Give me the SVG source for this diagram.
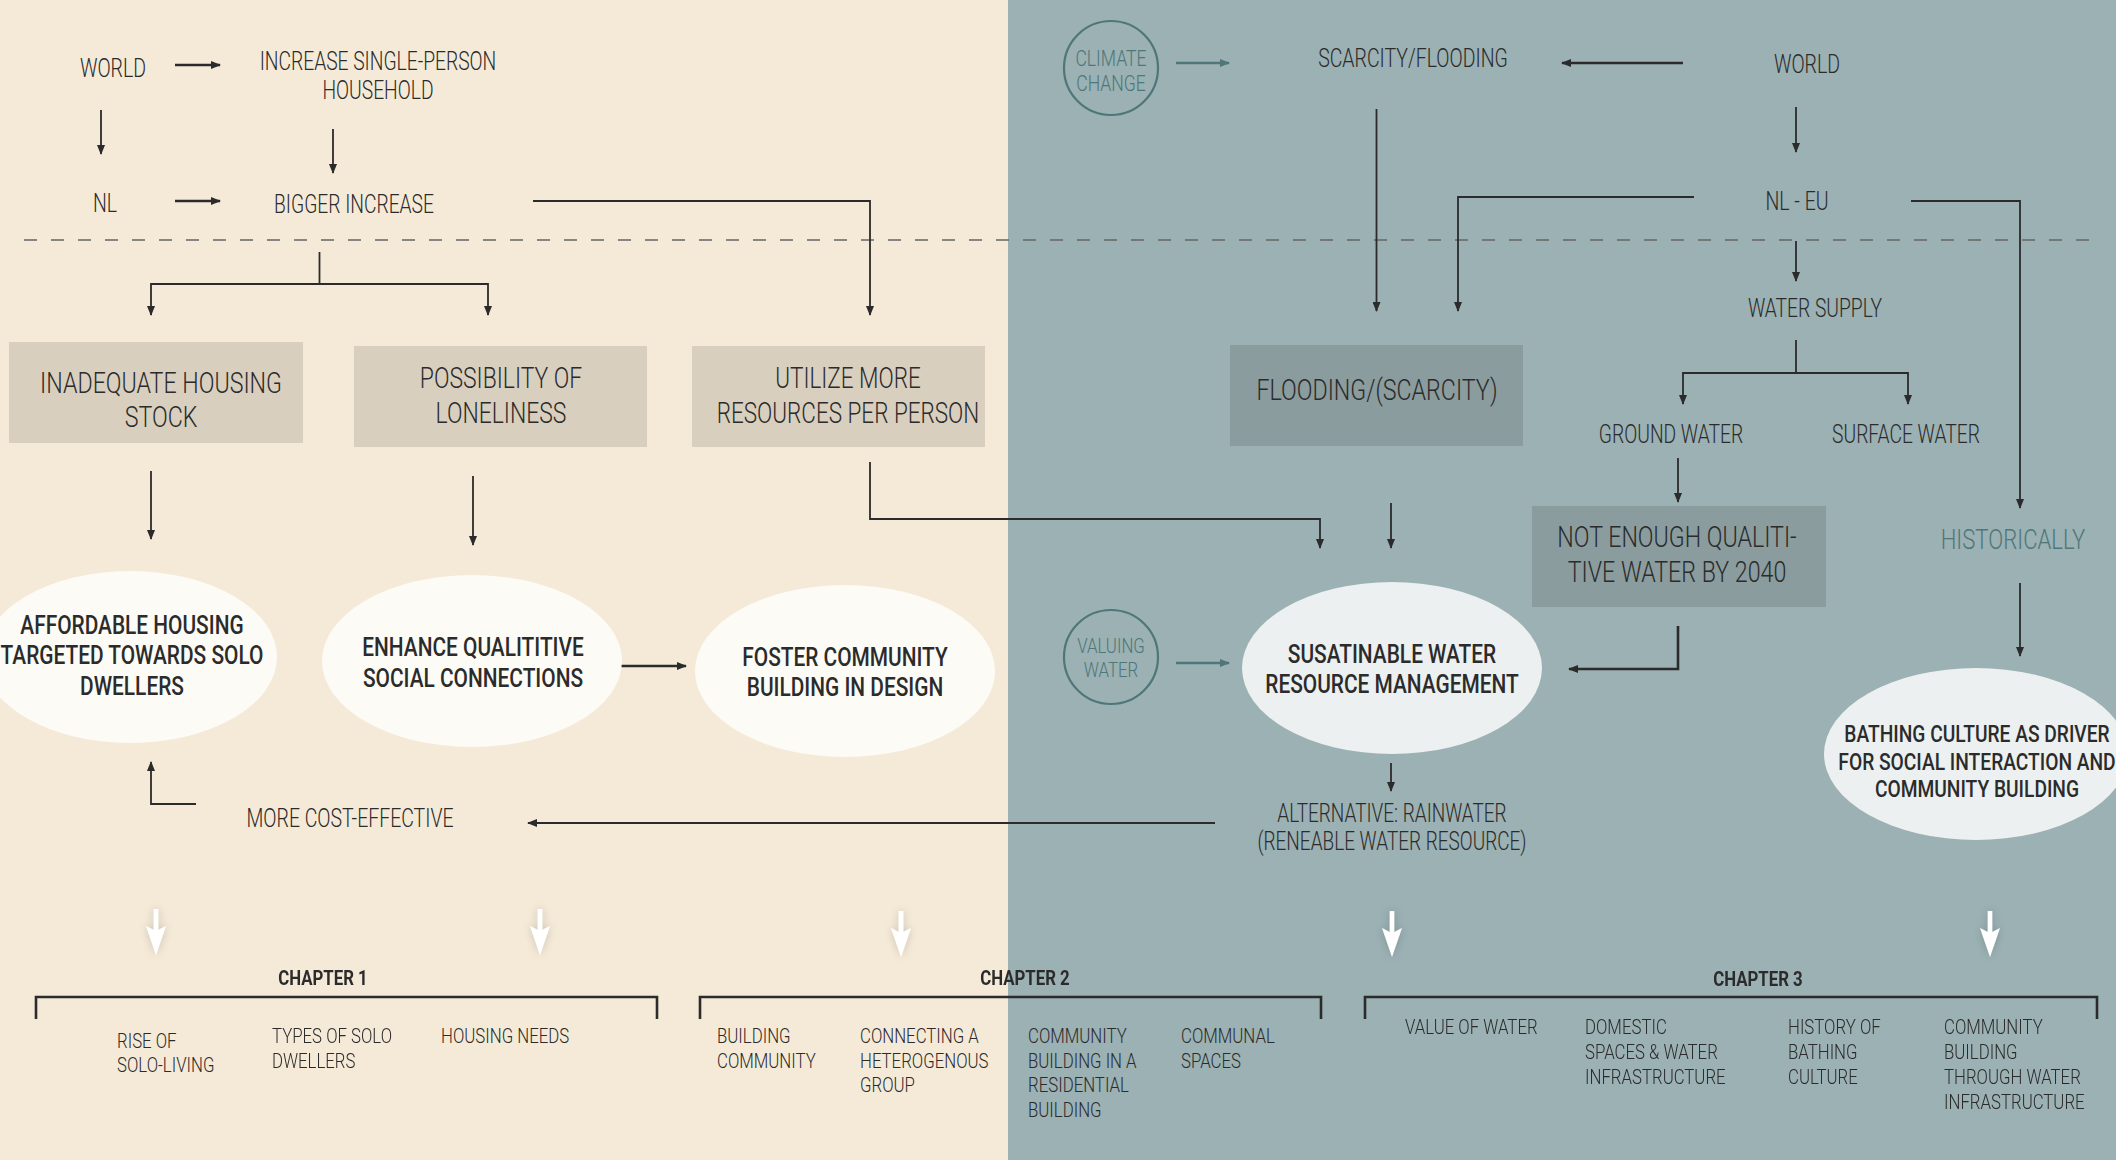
<svg xmlns="http://www.w3.org/2000/svg" width="2116" height="1160" viewBox="0 0 2116 1160">
<style>
text{font-family:Roboto,"Liberation Sans",sans-serif;fill:#2b2b2b;}
.t{font-size:25px;font-weight:300;text-anchor:middle;}
.bx{font-size:29px;font-weight:300;text-anchor:middle;}
.ci{font-size:25px;font-weight:500;text-anchor:middle;}
.cb{font-size:24px;font-weight:500;text-anchor:middle;}
.tl{fill:#4f7679;font-weight:300;text-anchor:middle;}
.ch{font-size:21px;font-weight:700;text-anchor:middle;}
.it{font-size:21px;font-weight:300;}
.ln{fill:none;stroke:#2b2b2b;stroke-width:1.8;}
.lt{fill:none;stroke:#2b2b2b;stroke-width:2.6;}
.tln{fill:none;stroke:#4f7679;stroke-width:2.4;}
.box{fill:#d9cfbf;}
.dbox{fill:#8a9c9e;}
.lc{fill:#fdfbf6;}
.rc{fill:#ecf0f0;}
.oc{fill:none;stroke:#4f7679;stroke-width:2.2;}
.wa{fill:#ffffff;}
</style>
<defs>
<marker id="ah" markerWidth="10" markerHeight="8" refX="9" refY="4" orient="auto" markerUnits="userSpaceOnUse"><path d="M0,0 L10,4 L0,8 Z" fill="#2b2b2b"/></marker>
<marker id="aht" markerWidth="10" markerHeight="8" refX="9" refY="4" orient="auto" markerUnits="userSpaceOnUse"><path d="M0,0 L10,4 L0,8 Z" fill="#4f7679"/></marker>
<filter id="glow" x="-100%" y="-50%" width="300%" height="200%"><feDropShadow dx="0" dy="0" stdDeviation="4" flood-color="#000" flood-opacity="0.18"/></filter>
<path id="warr" d="M-2.3,0 H2.3 V21 L10,17 L0,46 L-10,17 L-2.3,21 Z"/>
</defs>
<rect x="0" y="0" width="1008" height="1160" fill="#f5ead8"/>
<rect x="1008" y="0" width="1108" height="1160" fill="#9bb1b3"/>
<line x1="24" y1="240" x2="2092" y2="240" stroke="#666" stroke-width="1.3" stroke-dasharray="13 14"/>

<g id="connectors">
<line class="lt" x1="175" y1="65" x2="220" y2="65" marker-end="url(#ah)"/>
<line class="ln" x1="101" y1="110" x2="101" y2="154" marker-end="url(#ah)"/>
<line class="ln" x1="333" y1="129" x2="333" y2="173" marker-end="url(#ah)"/>
<line class="lt" x1="175" y1="201" x2="220" y2="201" marker-end="url(#ah)"/>
<polyline class="ln" points="533,201 870,201 870,315" marker-end="url(#ah)"/>
<polyline class="ln" points="319.5,252 319.5,284"/>
<polyline class="ln" points="151,315 151,284 488,284 488,315"/>
<line class="ln" x1="151" y1="310" x2="151" y2="315" marker-end="url(#ah)"/>
<line class="ln" x1="488" y1="310" x2="488" y2="315" marker-end="url(#ah)"/>
<line class="ln" x1="151" y1="471" x2="151" y2="539" marker-end="url(#ah)"/>
<line class="ln" x1="473" y1="476" x2="473" y2="545" marker-end="url(#ah)"/>
<polyline class="ln" points="870,462 870,519 1320,519 1320,548" marker-end="url(#ah)"/>
<line class="lt" x1="618" y1="666" x2="686" y2="666" marker-end="url(#ah)"/>
<polyline class="ln" points="196,804 151,804 151,762" marker-end="url(#ah)"/>
<line class="ln" x1="1215" y1="823" x2="528" y2="823" marker-end="url(#ah)"/>
<line class="tln" x1="1176" y1="63" x2="1229" y2="63" marker-end="url(#aht)"/>
<line class="lt" x1="1683" y1="63" x2="1562" y2="63" marker-end="url(#ah)"/>
<line class="ln" x1="1376.5" y1="109" x2="1376.5" y2="311" marker-end="url(#ah)"/>
<line class="ln" x1="1796" y1="107" x2="1796" y2="152" marker-end="url(#ah)"/>
<polyline class="ln" points="1694,197 1458,197 1458,311" marker-end="url(#ah)"/>
<polyline class="ln" points="1911,201 2020,201 2020,508" marker-end="url(#ah)"/>
<line class="ln" x1="1796" y1="241" x2="1796" y2="281" marker-end="url(#ah)"/>
<polyline class="ln" points="1796,340 1796,373"/>
<polyline class="ln" points="1683,404 1683,373 1908,373 1908,404"/>
<line class="ln" x1="1683" y1="399" x2="1683" y2="404" marker-end="url(#ah)"/>
<line class="ln" x1="1908" y1="399" x2="1908" y2="404" marker-end="url(#ah)"/>
<line class="ln" x1="1678" y1="458" x2="1678" y2="502" marker-end="url(#ah)"/>
<line class="ln" x1="1391" y1="503" x2="1391" y2="548" marker-end="url(#ah)"/>
<line class="ln" x1="2020" y1="583" x2="2020" y2="656" marker-end="url(#ah)"/>
<line class="tln" x1="1176" y1="663" x2="1229" y2="663" marker-end="url(#aht)"/>
<polyline class="lt" points="1678,626 1678,669 1569,669" marker-end="url(#ah)"/>
<line class="ln" x1="1391" y1="763" x2="1391" y2="791" marker-end="url(#ah)"/>
</g>

<g id="n-world-l"><text class="t" transform="translate(113,77) scale(0.78,1)">WORLD</text></g>
<g id="n-increase"><text class="t" transform="translate(378,70) scale(0.77,1)"><tspan x="0">INCREASE SINGLE-PERSON</tspan><tspan x="0" dy="29">HOUSEHOLD</tspan></text></g>
<g id="n-nl"><text class="t" transform="translate(105,212) scale(0.78,1)">NL</text></g>
<g id="n-bigger"><text class="t" transform="translate(354,213) scale(0.77,1)">BIGGER INCREASE</text></g>

<g id="n-inadequate"><rect class="box" x="9" y="342" width="294" height="101"/><text class="bx" transform="translate(161,393) scale(0.8,1)"><tspan x="0">INADEQUATE HOUSING</tspan><tspan x="0" dy="34">STOCK</tspan></text></g>
<g id="n-loneliness"><rect class="box" x="354" y="346" width="293" height="101"/><text class="bx" transform="translate(501,388) scale(0.79,1)"><tspan x="0">POSSIBILITY OF</tspan><tspan x="0" dy="35">LONELINESS</tspan></text></g>
<g id="n-utilize"><rect class="box" x="692" y="346" width="293" height="101"/><text class="bx" transform="translate(848,388) scale(0.775,1)"><tspan x="0">UTILIZE MORE</tspan><tspan x="0" dy="35">RESOURCES PER PERSON</tspan></text></g>

<g id="n-affordable"><ellipse class="lc" cx="130" cy="657" rx="147" ry="86"/><text class="ci" transform="translate(132,634) scale(0.835,1)"><tspan x="0">AFFORDABLE HOUSING</tspan><tspan x="0" dy="30">TARGETED TOWARDS SOLO</tspan><tspan x="0" dy="31">DWELLERS</tspan></text></g>
<g id="n-enhance"><ellipse class="lc" cx="472" cy="661" rx="150" ry="86"/><text class="ci" transform="translate(473,656) scale(0.835,1)"><tspan x="0">ENHANCE QUALITITIVE</tspan><tspan x="0" dy="31">SOCIAL CONNECTIONS</tspan></text></g>
<g id="n-foster"><ellipse class="lc" cx="845" cy="671" rx="150" ry="86"/><text class="ci" transform="translate(845,666) scale(0.835,1)"><tspan x="0">FOSTER COMMUNITY</tspan><tspan x="0" dy="30">BUILDING IN DESIGN</tspan></text></g>
<g id="n-costeffective"><text class="t" transform="translate(350,827) scale(0.78,1)">MORE COST-EFFECTIVE</text></g>

<g id="n-climate"><circle class="oc" cx="1111" cy="68" r="47"/><text class="tl" font-size="22" transform="translate(1111,66) scale(0.8,1)"><tspan x="0">CLIMATE</tspan><tspan x="0" dy="25">CHANGE</tspan></text></g>
<g id="n-scarcity"><text class="t" transform="translate(1413,67) scale(0.78,1)">SCARCITY/FLOODING</text></g>
<g id="n-world-r"><text class="t" transform="translate(1807,73) scale(0.78,1)">WORLD</text></g>
<g id="n-nleu"><text class="t" transform="translate(1797,210) scale(0.78,1)">NL - EU</text></g>
<g id="n-watersupply"><text class="t" transform="translate(1815,317) scale(0.77,1)">WATER SUPPLY</text></g>
<g id="n-ground"><text class="t" transform="translate(1671,443) scale(0.77,1)">GROUND WATER</text></g>
<g id="n-surface"><text class="t" transform="translate(1906,443) scale(0.77,1)">SURFACE WATER</text></g>
<g id="n-flooding"><rect class="dbox" x="1230" y="345" width="293" height="101"/><text class="bx" transform="translate(1377,400) scale(0.8,1)">FLOODING/(SCARCITY)</text></g>
<g id="n-notenough"><rect class="dbox" x="1532" y="506" width="294" height="101"/><text class="bx" transform="translate(1677,547) scale(0.8,1)"><tspan x="0">NOT ENOUGH QUALITI-</tspan><tspan x="0" dy="35">TIVE WATER BY 2040</tspan></text></g>
<g id="n-historically"><text class="tl" font-size="27" transform="translate(2013,549) scale(0.82,1)">HISTORICALLY</text></g>
<g id="n-valuing"><circle class="oc" cx="1111" cy="657" r="47"/><text class="tl" font-size="21" transform="translate(1111,653) scale(0.8,1)"><tspan x="0">VALUING</tspan><tspan x="0" dy="24">WATER</tspan></text></g>
<g id="n-sustainable"><ellipse class="rc" cx="1392" cy="668" rx="150" ry="86"/><text class="ci" transform="translate(1392,663) scale(0.835,1)"><tspan x="0">SUSATINABLE WATER</tspan><tspan x="0" dy="30">RESOURCE MANAGEMENT</tspan></text></g>
<g id="n-alternative"><text class="t" transform="translate(1392,822) scale(0.76,1)"><tspan x="0">ALTERNATIVE: RAINWATER</tspan><tspan x="0" dy="28">(RENEABLE WATER RESOURCE)</tspan></text></g>
<g id="n-bathing"><ellipse class="rc" cx="1976" cy="754" rx="152" ry="86"/><text class="cb" transform="translate(1977,742) scale(0.8,1)"><tspan x="0">BATHING CULTURE AS DRIVER</tspan><tspan x="0" dy="28">FOR SOCIAL INTERACTION AND</tspan><tspan x="0" dy="27">COMMUNITY BUILDING</tspan></text></g>

<g id="white-arrows" filter="url(#glow)">
<use href="#warr" class="wa" x="156" y="909"/>
<use href="#warr" class="wa" x="540" y="909"/>
<use href="#warr" class="wa" x="901" y="911"/>
<use href="#warr" class="wa" x="1392" y="911"/>
<use href="#warr" class="wa" x="1990" y="911"/>
</g>

<g id="chapter1">
<text class="ch" transform="translate(323,985) scale(0.8,1)">CHAPTER 1</text>
<polyline class="lt" points="36,1019 36,997 657,997 657,1019"/>
<text class="it" transform="translate(117,1048) scale(0.8,1)"><tspan x="0">RISE OF</tspan><tspan x="0" dy="24">SOLO-LIVING</tspan></text>
<text class="it" transform="translate(272,1043) scale(0.8,1)"><tspan x="0">TYPES OF SOLO</tspan><tspan x="0" dy="25">DWELLERS</tspan></text>
<text class="it" transform="translate(441,1043) scale(0.8,1)">HOUSING NEEDS</text>
</g>
<g id="chapter2">
<text class="ch" transform="translate(1025,985) scale(0.8,1)">CHAPTER 2</text>
<polyline class="lt" points="700,1019 700,997 1321,997 1321,1019"/>
<text class="it" transform="translate(717,1043) scale(0.8,1)"><tspan x="0">BUILDING</tspan><tspan x="0" dy="25">COMMUNITY</tspan></text>
<text class="it" transform="translate(860,1043) scale(0.8,1)"><tspan x="0">CONNECTING A</tspan><tspan x="0" dy="25">HETEROGENOUS</tspan><tspan x="0" dy="24">GROUP</tspan></text>
<text class="it" transform="translate(1028,1043) scale(0.8,1)"><tspan x="0">COMMUNITY</tspan><tspan x="0" dy="25">BUILDING IN A</tspan><tspan x="0" dy="24">RESIDENTIAL</tspan><tspan x="0" dy="25">BUILDING</tspan></text>
<text class="it" transform="translate(1181,1043) scale(0.8,1)"><tspan x="0">COMMUNAL</tspan><tspan x="0" dy="25">SPACES</tspan></text>
</g>
<g id="chapter3">
<text class="ch" transform="translate(1758,986) scale(0.8,1)">CHAPTER 3</text>
<polyline class="lt" points="1365,1019 1365,997 2097,997 2097,1019"/>
<text class="it" transform="translate(1405,1034) scale(0.8,1)">VALUE OF WATER</text>
<text class="it" transform="translate(1585,1034) scale(0.8,1)"><tspan x="0">DOMESTIC</tspan><tspan x="0" dy="25">SPACES &amp; WATER</tspan><tspan x="0" dy="25">INFRASTRUCTURE</tspan></text>
<text class="it" transform="translate(1788,1034) scale(0.8,1)"><tspan x="0">HISTORY OF</tspan><tspan x="0" dy="25">BATHING</tspan><tspan x="0" dy="25">CULTURE</tspan></text>
<text class="it" transform="translate(1944,1034) scale(0.8,1)"><tspan x="0">COMMUNITY</tspan><tspan x="0" dy="25">BUILDING</tspan><tspan x="0" dy="25">THROUGH WATER</tspan><tspan x="0" dy="25">INFRASTRUCTURE</tspan></text>
</g>
</svg>
